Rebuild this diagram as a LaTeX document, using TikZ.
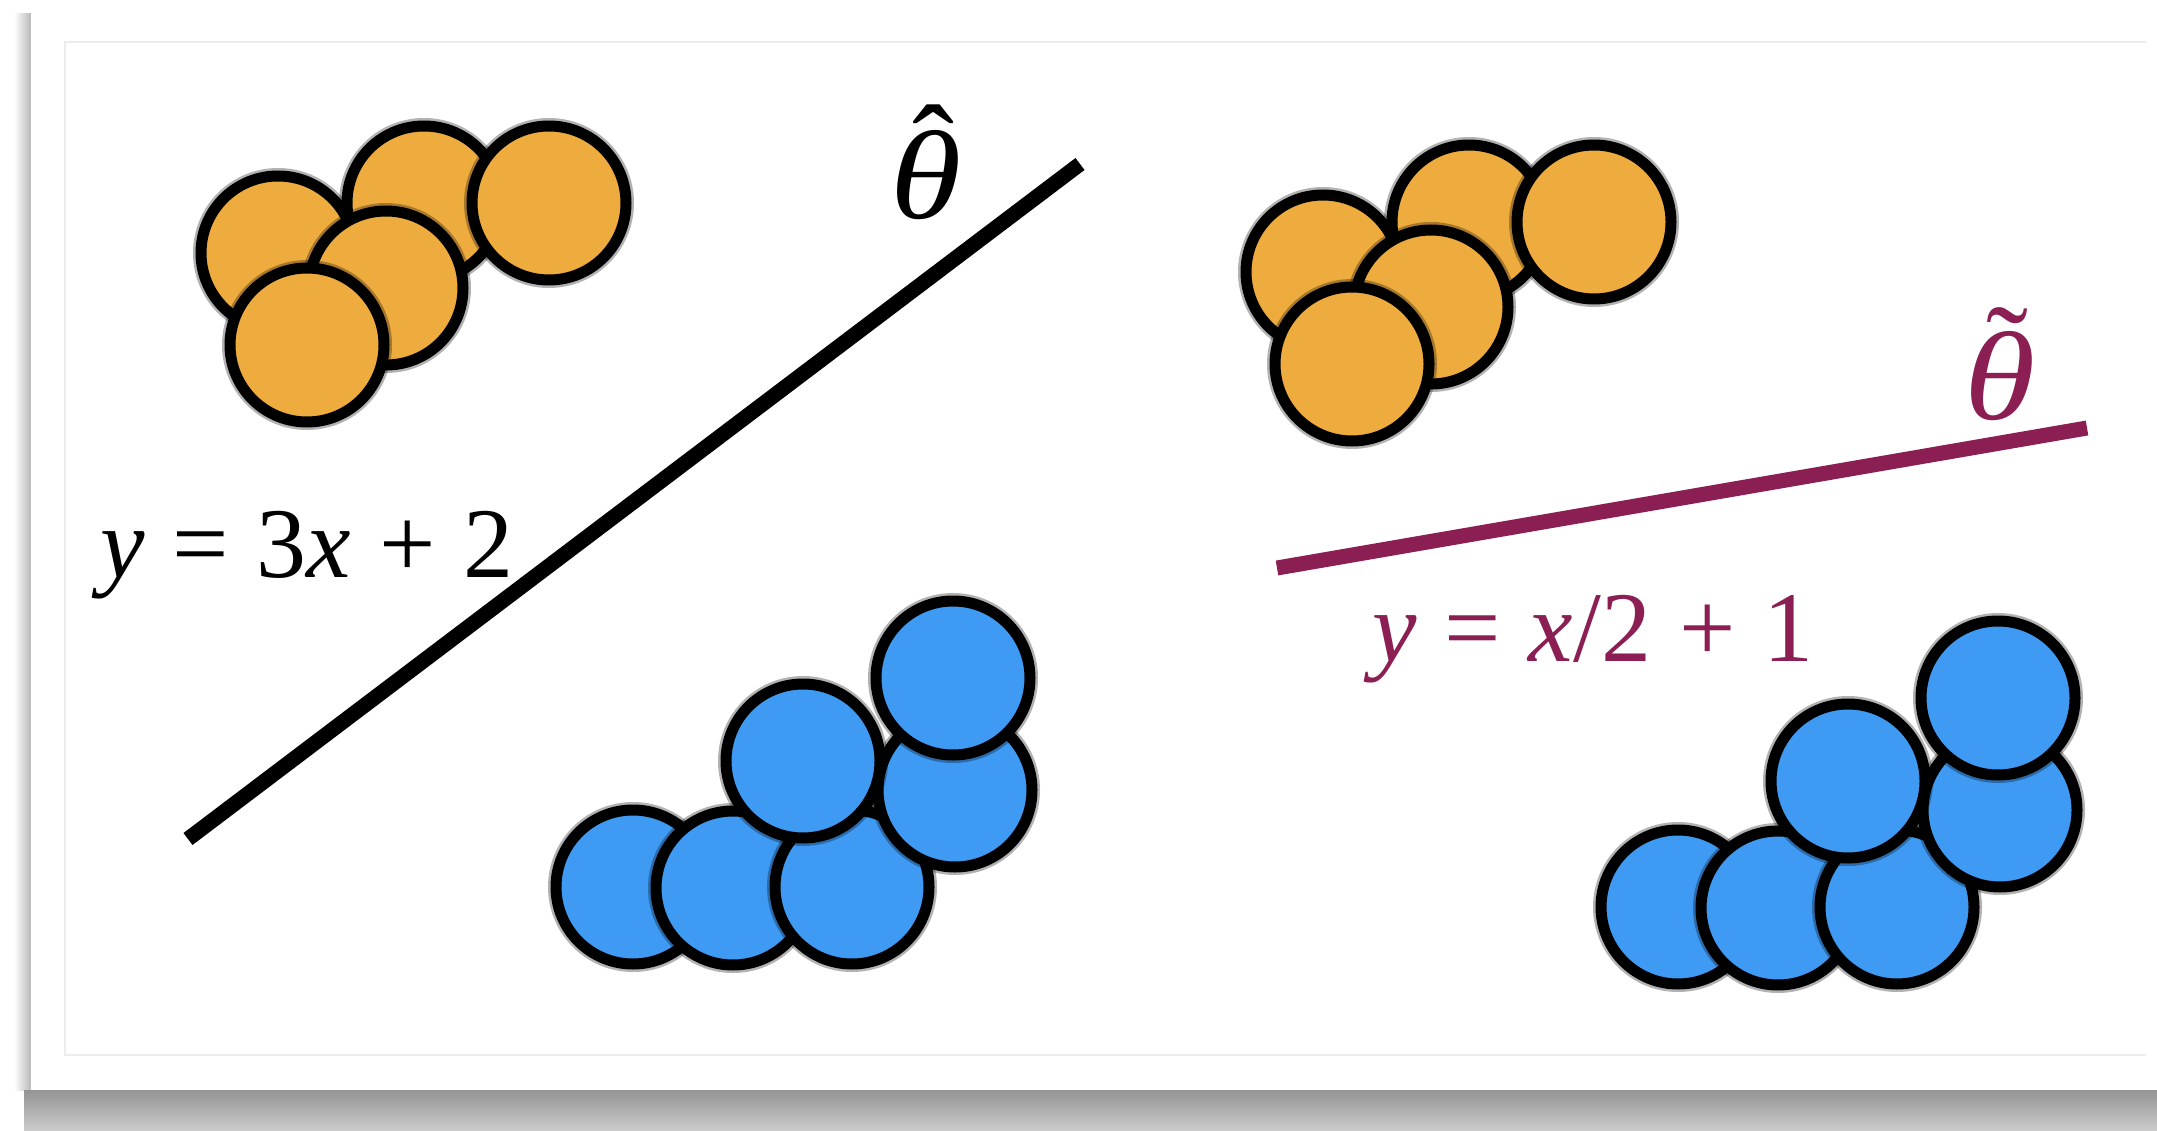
\documentclass[tikz,border=0pt]{standalone}
\usepackage{fontspec}
\setmainfont{Liberation Serif}
\definecolor{dotorange}{RGB}{239,172,62}
\definecolor{dotblue}{RGB}{62,154,243}
\definecolor{fitpurple}{RGB}{139,30,82}
\definecolor{framegrey}{RGB}{236,236,236}
\newcommand\eqgap{\hspace{0.28em}}
\newcommand\thetahat{\ooalign{\scalebox{1.15}[1]{\itshape θ}\cr\hidewidth\kern0.12em\raisebox{0.21em}{\upshape ˆ}\hidewidth\cr}}
\newcommand\thetatilde{\ooalign{\scalebox{1.15}[1]{\itshape θ}\cr\hidewidth\kern0.12em\raisebox{0.21em}{\upshape ˜}\hidewidth\cr}}
\begin{document}
\begin{tikzpicture}[x=1pt,y=-1pt,
  fuzz/.style={preaction={draw=black,draw opacity=0.3,line width=16pt}},
  dotA/.style={fuzz,fill=dotorange,draw=black,line width=11pt},
  dotB/.style={fuzz,fill=dotblue,draw=black,line width=11pt},
  eqlabel/.style={inner sep=0pt,anchor=base west,font=\fontsize{100}{110}\selectfont},
  thlabel/.style={inner sep=0pt,anchor=base,font=\fontsize{126}{134}\selectfont}]
\useasboundingbox (0,0) rectangle (2157,1131);
\fill[white] (0,0) rectangle (2157,1131);
% card shadow
\shade[left color=white,right color=black!28] (14,14) rectangle (31,1090);
\shade[top color=black!42,bottom color=black!20] (24,1090) rectangle (2157,1131);
\fill[white] (31,9) rectangle (2157,1090);
\draw[framegrey,line width=1.5pt] (2146,42) -- (65,42) -- (65,1055) -- (2146,1055);
% left orange group
\foreach \cx/\cy in {278/253,424/203,549/203,386/288,307/345}
  \draw[dotA] (\cx,\cy) circle (77);
% left blue group
\foreach \cx/\cy in {633/887,733/888,852/887,955/790,803/761,953/678}
  \draw[dotB] (\cx,\cy) circle (77);
% right orange group
\foreach \cx/\cy in {278/253,424/203,549/203,386/288,307/345}
  \draw[dotA] (\cx+1045,\cy+19) circle (77);
% right blue group
\foreach \cx/\cy in {633/887,733/888,852/887,955/790,803/761,953/678}
  \draw[dotB] (\cx+1045,\cy+20) circle (77);
% fitted lines
\coordinate (l1a) at (188,839);
\coordinate (l1b) at (1080,164);
\draw[black,line width=15pt] (l1a) -- (l1b);
\coordinate (l2a) at (1277,568);
\coordinate (l2b) at (2087,428);
\draw[fitpurple,line width=15pt] (l2a) -- (l2b);
% labels
\node[eqlabel] (eq1) at (100,577)
  {\itshape y\upshape\eqgap=\eqgap3\itshape x\upshape\eqgap+\eqgap2};
\node[eqlabel,text=fitpurple] (eq2) at (1372,661)
  {\itshape y\upshape\eqgap=\eqgap\itshape x\upshape/2\eqgap+\eqgap1};
\node[thlabel] (th1) at (926,219) {\thetahat};
\node[thlabel,text=fitpurple] (th2) at (2000,419) {\thetatilde};
\end{tikzpicture}
\end{document}
